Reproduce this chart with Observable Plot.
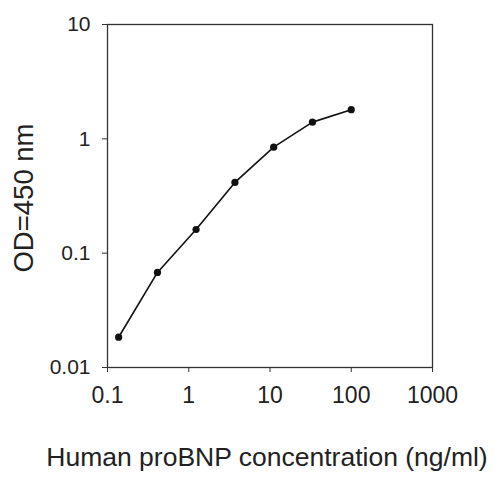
<!DOCTYPE html>
<html>
<head>
<meta charset="utf-8">
<script src="https://cdn.jsdelivr.net/npm/d3@7"></script>
<script src="https://cdn.jsdelivr.net/npm/@observablehq/plot@0.6"></script>
<style>
  html, body { margin: 0; padding: 0; background: #fff; }
  #chart svg { display: block; }
</style>
</head>
<body>
<div id="chart"></div>
<script>
const concentration = [0.137, 0.412, 1.23, 3.70, 11.1, 33.3, 100];
const od450 = [0.0184, 0.0678, 0.161, 0.416, 0.845, 1.40, 1.80];
const xTicks = [0.1, 1, 10, 100, 1000];
const yTicks = [0.01, 0.1, 1, 10];
const xTitle = "Human proBNP concentration (ng/ml)";
const yTitle = "OD=450 nm";

const data = concentration.map((c, i) => ({x: c, y: od450[i]}));
const fmt = d => String(d);

const chart = Plot.plot({
  width: 500,
  height: 478,
  marginLeft: 107,
  marginRight: 68,
  marginTop: 24,
  marginBottom: 111,
  style: {fontFamily: "'Liberation Sans', Arial, sans-serif", color: "#222", background: "#fff"},
  x: {type: "log", domain: [0.1, 1000]},
  y: {type: "log", domain: [0.01, 10]},
  marks: [
    Plot.frame({stroke: "#333", strokeWidth: 1.3}),
    Plot.axisX({ticks: xTicks, tickFormat: fmt, tickSize: 5, tickPadding: 14, fontSize: 23, label: null, stroke: "#333"}),
    Plot.axisY({ticks: yTicks, tickFormat: fmt, tickSize: 5, tickPadding: 12, fontSize: 21, label: null, stroke: "#333"}),
    Plot.line(data, {x: "x", y: "y", stroke: "#111", strokeWidth: 1.6}),
    Plot.dot(data, {x: "x", y: "y", r: 3.6, fill: "#111", stroke: "none"}),
    Plot.text([xTitle], {frameAnchor: "bottom", dy: 90, dx: -3, fontSize: 26.5, fill: "#222", textAnchor: "middle", lineAnchor: "middle"}),
    Plot.text([yTitle], {frameAnchor: "left", dx: -83, dy: 2, rotate: -90, fontSize: 27.5, fill: "#222", textAnchor: "middle", lineAnchor: "middle"})
  ]
});
document.getElementById("chart").appendChild(chart);
</script>
</body>
</html>
